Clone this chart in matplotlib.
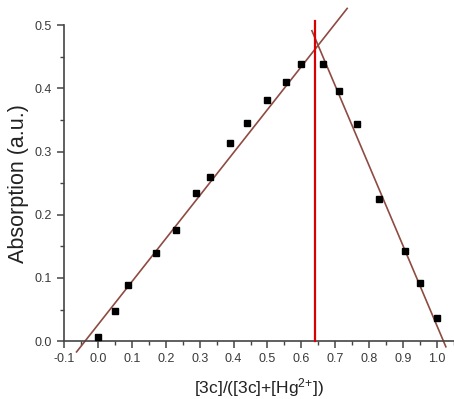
# Job plot: absorption vs mole fraction of 3c, with two linear fits

import numpy as np
import matplotlib.pyplot as plt
from matplotlib.ticker import MultipleLocator

plt.rcParams['font.family'] = ['Liberation Sans', 'DejaVu Sans']
plt.rcParams['mathtext.fontset'] = 'custom'
plt.rcParams['mathtext.rm'] = 'Liberation Sans'
plt.rcParams['mathtext.it'] = 'Liberation Sans'

# data
frac = [0.0, 0.05, 0.09, 0.17, 0.23, 0.29, 0.33, 0.39, 0.44, 0.5, 0.555,
        0.6, 0.665, 0.71, 0.765, 0.83, 0.905, 0.95, 1.0]
absorb = [0.007, 0.047, 0.089, 0.139, 0.176, 0.235, 0.260, 0.313, 0.345, 0.381,
          0.410, 0.438, 0.438, 0.396, 0.344, 0.225, 0.142, 0.092, 0.036]

# linear fits (slope, intercept) and the x range each one is drawn over
left_fit = [0.681, 0.0259]
left_range = [-0.063, 0.735]
right_fit = [-1.266, 1.290]
right_range = [0.631, 1.026]

x_cross = 0.641   # red line

fig = plt.figure(figsize=(4.54, 3.99), dpi=100)
ax = fig.add_axes([0.141, 0.145, 0.859, 0.792])

fit_col = '#8e4b42'
for fit, rng in [(left_fit, left_range), (right_fit, right_range)]:
    xx = np.array(rng)
    ax.plot(xx, fit[0] * xx + fit[1], color=fit_col, lw=1.2, clip_on=False, zorder=2)

ax.plot(frac, absorb, 's', color='black', ms=5, clip_on=False, zorder=3)
ax.plot([x_cross, x_cross], [0, 0.507], color='#d80000', lw=1.6, clip_on=False, zorder=4)

ax.set_xlim(-0.1, 1.05)
ax.set_ylim(0, 0.5)
ax.xaxis.set_minor_locator(MultipleLocator(0.05))
ax.yaxis.set_major_locator(MultipleLocator(0.1))
ax.yaxis.set_minor_locator(MultipleLocator(0.05))
ax.set_xticks(np.arange(-0.1, 1.01, 0.1))
ax.set_xticklabels(['%.1f' % v for v in np.arange(-0.1, 1.01, 0.1)])
ax.spines['top'].set_visible(False)
ax.spines['right'].set_visible(False)
for s in ['left', 'bottom']:
    ax.spines[s].set_color('#444444')
    ax.spines[s].set_linewidth(1.2)
ax.tick_params(which='major', direction='out', length=5, width=1.1, color='#444444',
               labelsize=9, labelcolor='#3a3a3a')
ax.tick_params(which='minor', direction='out', length=3, width=1.0, color='#444444')

ax.set_xlabel('[3c]/([3c]+[Hg$^{2{+}}$])', fontsize=12.5, labelpad=8, color='#222222')
ax.set_ylabel('Absorption (a.u.)', fontsize=15.5, labelpad=4, color='#222222')

fig.savefig('out.png', dpi=100)
